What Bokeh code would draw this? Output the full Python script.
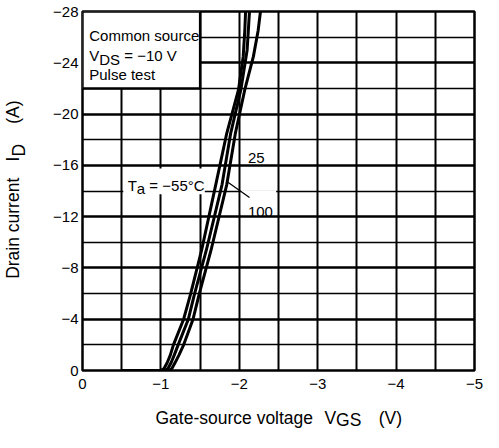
from bokeh.plotting import figure
from bokeh.models import Range1d, FixedTicker, Label, LinearAxis
from bokeh.embed import file_html
from bokeh.resources import INLINE

# ---------------- data ----------------
vgs_m55 = [-0.5, -1.0, -1.04, -1.08, -1.12, -1.16, -1.29, -1.38, -1.52, -1.70, -1.84, -1.99, -2.05, -2.07, -2.08]
id_m55 = [0, 0, -0.15, -0.6, -1.2, -2.0, -4.0, -6.0, -9.4, -14.5, -18.5, -21.9, -24.5, -26.5, -28]
vgs_25 = [-0.5, -1.05, -1.09, -1.13, -1.17, -1.22, -1.35, -1.43, -1.58, -1.78, -1.89, -2.02, -2.10, -2.12, -2.13]
id_25 = [0, 0, -0.15, -0.6, -1.2, -2.0, -4.0, -6.0, -9.4, -14.5, -18.5, -21.9, -25.0, -27.0, -28]
vgs_100 = [-0.5, -1.10, -1.14, -1.18, -1.23, -1.29, -1.41, -1.49, -1.64, -1.84, -1.95, -2.07, -2.18, -2.24, -2.27]
id_100 = [0, 0, -0.15, -0.6, -1.2, -2.0, -4.0, -6.0, -9.4, -14.5, -18.5, -21.9, -24.5, -26.5, -28]

x_ticks = [0, -1, -2, -3, -4, -5]
x_tick_labels = ["0", "\u22121", "\u22122", "\u22123", "\u22124", "\u22125"]
y_ticks = [0, -4, -8, -12, -16, -20, -24, -28]
y_tick_labels = ["0", "\u22124", "\u22128", "\u221212", "\u221216", "\u221220", "\u221224", "\u221228"]
x_grid = [-0.5 * i for i in range(11)]
y_minor_grid = [-2, -6, -10, -14, -18, -22, -26]

# axis title pieces (text, position along the axis in data units)
x_title_pos = [-1.936, -3.162, -3.928]
x_title_txt = ["Gate-source voltage", "V", "(V)"]
x_sub_pos = [-3.395]
x_sub_txt = ["GS"]
y_title_pos = [-11.09, -16.50, -20.15]
y_title_txt = ["Drain current", "I", "(A)"]
y_sub_pos = [-17.18]
y_sub_txt = ["D"]

FONT = "Liberation Sans"

p = figure(width=483, height=432, x_range=Range1d(0, -5), y_range=Range1d(0, -28),
           output_backend="svg", toolbar_location=None,
           min_border_left=80, min_border_right=9, min_border_top=11, min_border_bottom=61)
p.background_fill_color = "white"
p.border_fill_color = "white"
p.outline_line_color = "black"
p.outline_line_width = 2.5


def style_axis(ax, size, standoff):
    ax.axis_line_color = None
    ax.major_tick_line_color = None
    ax.minor_tick_line_color = None
    ax.major_tick_out = 0
    ax.major_tick_in = 0
    ax.minor_tick_out = 0
    ax.minor_tick_in = 0
    ax.major_label_text_font = FONT
    ax.major_label_text_font_size = size
    ax.major_label_text_color = "black"
    ax.major_label_standoff = standoff


# main axes
style_axis(p.xaxis[0], "15px", 8)
style_axis(p.yaxis[0], "15px", 4)
p.xaxis.ticker = FixedTicker(ticks=x_ticks)
p.yaxis.ticker = FixedTicker(ticks=y_ticks)
p.xaxis.major_label_overrides = {t: s for t, s in zip(x_ticks, x_tick_labels)}
p.yaxis.major_label_overrides = {t: s for t, s in zip(y_ticks, y_tick_labels)}


def title_axis(ticks, texts, standoff, side):
    ax = LinearAxis(ticker=FixedTicker(ticks=ticks),
                    major_label_overrides={t: s for t, s in zip(ticks, texts)})
    style_axis(ax, "17.5px", standoff)
    if side == "left":
        ax.major_label_orientation = "parallel"
    p.add_layout(ax, side)


# axis titles with subscripts, built from extra axes
title_axis(x_title_pos, x_title_txt, 16, "below")
title_axis(x_sub_pos, x_sub_txt, -21, "below")
title_axis(y_title_pos, y_title_txt, 27, "left")
title_axis(y_sub_pos, y_sub_txt, -29, "left")

# grid
p.xgrid.ticker = FixedTicker(ticks=x_grid)
p.xgrid.grid_line_color = "black"
p.xgrid.grid_line_width = 2
p.ygrid.ticker = FixedTicker(ticks=y_ticks, minor_ticks=y_minor_grid)
p.ygrid.grid_line_color = "black"
p.ygrid.grid_line_width = 2.4
p.ygrid.minor_grid_line_color = "black"
p.ygrid.minor_grid_line_width = 1.6

# condition box (top-left)
p.quad(left=0, right=-1.5, top=-28, bottom=-22, fill_color="white",
       line_color="black", line_width=2.4)
# white backgrounds behind in-plot labels
p.quad(left=-0.52, right=-1.56, top=-15.75, bottom=-13.75, fill_color="white", line_color=None)
p.quad(left=-2.02, right=-2.47, top=-14.05, bottom=-12.2, fill_color="white", line_color=None)

# curves
for xs, ys in ((vgs_m55, id_m55), (vgs_25, id_25), (vgs_100, id_100)):
    p.line(xs, ys, line_color="black", line_width=3)

# leader line for 100
p.line([-1.85, -2.13], [-14.7, -13.5], line_color="black", line_width=1.3)


def lab(x, y, text, xo=0, yo=0, size="15px"):
    p.add_layout(Label(x=x, y=y, text=text, x_offset=xo, y_offset=yo,
                       text_font=FONT, text_font_size=size, text_color="black",
                       text_align="left", text_baseline="alphabetic"))


# condition text
lab(-0.086, -26.09, "Common source")
lab(-0.086, -24.57, "V")
lab(-0.086, -24.57, "DS", xo=10, yo=-4)
lab(-0.086, -24.57, "= \u221210 V", xo=35)
lab(-0.086, -23.12, "Pulse test")

# temperature labels
lab(-0.576, -14.44, "T")
lab(-0.576, -14.44, "a", xo=9.2, yo=-3)
lab(-0.576, -14.44, "= \u221255\u00b0C", xo=21.7)
lab(-2.11, -16.57, "25")
lab(-2.11, -12.38, "100")

open("out.html", "w").write(file_html(p, INLINE))
